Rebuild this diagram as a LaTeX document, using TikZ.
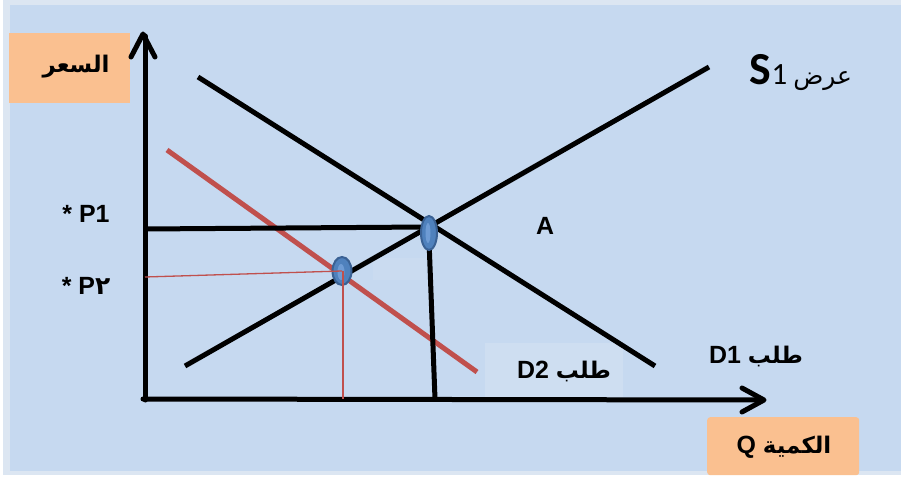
\documentclass[tikz,border=0pt]{standalone}
\usepackage{fontspec}
\setmainfont{Liberation Sans}
\newfontfamily\arabicfont[Script=Arabic]{DejaVu Sans}
\newfontfamily\calfont{Carlito}
\TeXXeTstate=1
\usetikzlibrary{shapes.geometric}
\definecolor{bgout}{HTML}{DCE6F2}
\definecolor{bgin}{HTML}{C6D9F0}
\definecolor{patchc}{HTML}{CEDEF1}
\definecolor{patchd}{HTML}{CADBF0}
\definecolor{orangebox}{HTML}{FAC090}
\definecolor{redline}{HTML}{C0504D}
\definecolor{dotfill}{HTML}{4F81BD}
\definecolor{dotedge}{HTML}{3A6194}
\definecolor{dotlight}{HTML}{6E9BD4}
\tikzset{
  axisline/.style={line width=5bp, black, line cap=round, line join=round},
  curveline/.style={line width=5bp, black},
  redcurve/.style={line width=5bp, redline},
  thinred/.style={line width=1.3bp, redline},
  guide/.style={line width=5bp, black},
  dotnode/.style={ellipse, draw=dotedge, fill=dotfill, line width=2bp, inner sep=0pt},
  dotshine/.style={ellipse, fill=dotlight, inner sep=0pt},
  lbl/.style={font=\bfseries\fontsize{25}{29}\selectfont, inner sep=0pt},
  arlbl/.style={font=\arabicfont\bfseries\fontsize{23}{27}\selectfont, inner sep=0pt},
  orangebx/.style={fill=orangebox, draw=none},
}
\begin{document}
\begin{tikzpicture}[x=1bp,y=-1bp]
\useasboundingbox (0,0) rectangle (901,478);
% background
\fill[white] (0,0) rectangle (901,478);
\fill[bgout] (3,0) rectangle (901,475);
\fill[bgin] (10,5) rectangle (901,471);
% faint light patches
\fill[patchc] (485,343) rectangle (623,397);
\fill[patchd] (373,258) rectangle (426,280);
% label boxes
\node[orangebx, minimum width=121bp, minimum height=70bp, anchor=north west] (pbox) at (9,33) {};
\node[arlbl] (ptext) at (76,67) {\beginR السعر\endR};
\node[orangebx, rounded corners=3bp, minimum width=152bp, minimum height=58bp, anchor=north west] (qbox) at (707,417) {};
\node[lbl] (qtext) at (784,447) {Q {\arabicfont\fontsize{23}{27}\selectfont\beginR الكمية\endR}};
% coordinates
\coordinate (O) at (145,400);
\coordinate (ytop) at (145,36);
\coordinate (xend) at (762,400);
\coordinate (s0) at (185,366);
\coordinate (s1) at (709,67);
\coordinate (d0) at (198,77);
\coordinate (d1) at (655,366);
\coordinate (r0) at (167,150);
\coordinate (r1) at (477,372);
\coordinate (p1l) at (145,229);
\coordinate (p1r) at (427,227);
\coordinate (v1t) at (429,240);
\coordinate (v1b) at (435,399);
\coordinate (p2l) at (145,277);
\coordinate (v2b) at (343,399);
% curves
\draw[curveline] (s0) -- (s1);
\draw[curveline] (d0) -- (d1);
\draw[redcurve] (r0) -- (r1);
\draw[guide] (p1l) -- (p1r);
\draw[guide] (v1t) -- (v1b);
% axes
\draw[axisline] (O) -- (ytop);
\draw[axisline] (131,57) -- (143,34) -- (155,57);
\draw[axisline] (143,399) -- (xend);
\draw[axisline] (742,388) -- (764,400) -- (742,412);
% equilibrium dots
\node[dotnode, minimum width=16bp, minimum height=34bp] (E1) at (429,233) {};
\node[dotshine, minimum width=5bp, minimum height=20bp] (E1s) at (428,233) {};
\node[dotnode, minimum width=19bp, minimum height=28bp] (E2) at (342,271) {};
\node[dotshine, minimum width=7bp, minimum height=16bp] (E2s) at (341,272) {};
% thin red guides
\draw[thinred] (p2l) -- (E2.center);
\draw[thinred] (343,271) -- (v2b);
% labels
\node[lbl] (lp1) at (86,214) {* P1};
\node[lbl] (lp2) at (86,286) {* P{\arabicfont ٢}};
\node[lbl] (lA) at (545,226) {A};
\node[inner sep=0pt] (lS) at (801,73) {{\calfont\bfseries\fontsize{46}{50}\selectfont S}{\calfont\fontsize{31}{34}\selectfont 1\hspace{6bp}}{\arabicfont\fontsize{25}{28}\selectfont\beginR عرض\endR}};
\node[lbl] (lD1) at (756,357) {D1 {\arabicfont\fontsize{23}{27}\selectfont\beginR طلب\endR}};
\node[lbl] (lD2) at (564,372) {D2 {\arabicfont\fontsize{23}{27}\selectfont\beginR طلب\endR}};
\end{tikzpicture}
\end{document}
